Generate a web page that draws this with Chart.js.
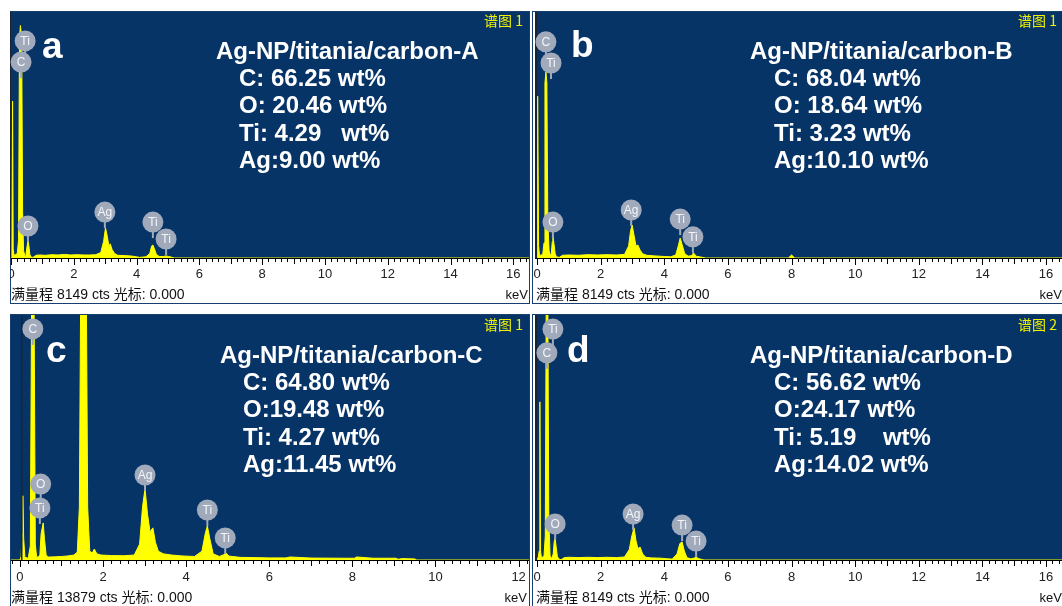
<!DOCTYPE html>
<html lang="zh">
<head>
<meta charset="UTF-8">
<title>EDS spectra Ag-NP/titania/carbon</title>
<script src="https://cdn.jsdelivr.net/npm/chart.js"></script>
<style>
  body { margin: 0; background: #fff; width: 1062px; height: 606px; overflow: hidden; position: relative; }
  canvas { position: absolute; }
  #panelA { left: 10px; top: 11px; }
  #panelB { left: 532px; top: 11px; }
  #panelC { left: 10px; top: 314px; }
  #panelD { left: 532px; top: 314px; }
</style>
</head>
<body>
<canvas id="panelA" width="520" height="293"></canvas>
<canvas id="panelB" width="530" height="293"></canvas>
<canvas id="panelC" width="520" height="292"></canvas>
<canvas id="panelD" width="530" height="292"></canvas>
<script>
// ---- data (energy in keV, intensity in counts) ----
const tickLabels16 = [0, 2, 4, 6, 8, 10, 12, 14, 16];
const tickLabels12 = [0, 2, 4, 6, 8, 10, 12];

const energyA = [0, 0.03, 0.05, 0.07, 0.1, 0.2, 0.24, 0.27, 0.3, 0.34,
  0.37, 0.4, 0.44, 0.47, 0.5, 0.54, 0.57, 0.6, 0.64, 0.7,
  0.8, 0.9, 1.1, 1.3, 1.5, 1.7, 1.9, 2.1, 2.3, 2.5,
  2.7, 2.86, 2.95, 3.01, 3.07, 3.12, 3.16, 3.22, 3.3, 3.4,
  3.6, 3.8, 4.0, 4.1, 4.3, 4.42, 4.48, 4.52, 4.57, 4.63,
  4.72, 4.85, 4.94, 5.02, 5.1, 5.2, 16.5];
const countsA = [0, 300, 5200, 300, 80, 150, 600, 7300, 7700, 7300,
  1500, 250, 70, 60, 300, 570, 400, 120, 30, 20,
  90, 100, 90, 110, 100, 120, 100, 110, 100, 100,
  110, 180, 550, 1000, 700, 380, 470, 280, 150, 90,
  80, 70, 40, 20, 40, 150, 400, 430, 300, 120,
  50, 50, 70, 50, 30, 0, 0];

const energyB = [0, 0.01, 0.03, 0.05, 0.08, 0.18, 0.22, 0.25, 0.28, 0.31,
  0.34, 0.38, 0.42, 0.45, 0.48, 0.5, 0.53, 0.57, 0.61, 0.7,
  0.8, 1.0, 1.3, 1.6, 1.9, 2.2, 2.5, 2.75, 2.88, 2.94,
  2.99, 3.05, 3.11, 3.17, 3.24, 3.32, 3.45, 3.7, 4.0, 4.2,
  4.36, 4.44, 4.5, 4.56, 4.64, 4.75, 4.86, 4.92, 5.0, 5.15,
  5.3, 7.9, 8.0, 8.1, 16.5];
const countsB = [0, 400, 5360, 400, 80, 120, 500, 5800, 6160, 5800,
  1200, 250, 80, 150, 550, 730, 500, 150, 40, 20,
  90, 100, 90, 110, 100, 110, 100, 120, 400, 900,
  1090, 750, 400, 430, 260, 140, 90, 70, 50, 40,
  100, 400, 660, 450, 150, 60, 80, 170, 60, 30,
  0, 0, 100, 0, 0];

const energyC = [-0.215, 0, 0.03, 0.05, 0.07, 0.09, 0.12, 0.2, 0.25, 0.28,
  0.34, 0.37, 0.4, 0.44, 0.48, 0.51, 0.56, 0.59, 0.63, 0.67,
  0.72, 0.85, 1.0, 1.15, 1.3, 1.38, 1.43, 1.46, 1.6, 1.63,
  1.68, 1.74, 1.79, 1.85, 1.95, 2.2, 2.5, 2.75, 2.88, 2.95,
  3.01, 3.07, 3.13, 3.2, 3.26, 3.33, 3.45, 3.65, 3.9, 4.2,
  4.38, 4.46, 4.51, 4.57, 4.65, 4.8, 4.9, 4.96, 5.03, 5.3,
  6.0, 6.4, 6.5, 7.0, 7.8, 8.05, 8.1, 8.5, 9.05, 9.1,
  9.2, 9.5, 9.55, 12.25];
const countsC = [0, 0, 200, 1500, 3640, 1200, 150, 100, 800, 14500,
  14500, 900, 200, 150, 300, 1500, 2100, 1200, 300, 170,
  170, 180, 200, 230, 280, 450, 3000, 14500, 14500, 3000,
  500, 400, 620, 350, 280, 250, 240, 280, 900, 3000,
  4040, 2600, 1600, 1820, 1000, 500, 350, 280, 230, 200,
  500, 1500, 1930, 1200, 350, 200, 300, 400, 220, 150,
  120, 120, 170, 110, 100, 100, 170, 100, 100, 40,
  80, 60, 0, 0];

const energyD = [0, 0.04, 0.07, 0.09, 0.11, 0.14, 0.22, 0.26, 0.29, 0.31,
  0.34, 0.37, 0.41, 0.46, 0.51, 0.54, 0.57, 0.6, 0.64, 0.69,
  0.76, 0.86, 1.0, 1.3, 1.6, 1.9, 2.2, 2.5, 2.75, 2.9,
  2.98, 3.05, 3.11, 3.17, 3.24, 3.32, 3.42, 3.6, 3.9, 4.1,
  4.25, 4.4, 4.49, 4.56, 4.63, 4.71, 4.83, 4.93, 5.0, 5.07,
  5.17, 5.25, 16.5];
const countsD = [0, 100, 300, 5260, 300, 80, 120, 800, 8800, 9000,
  8800, 1500, 150, 40, 200, 600, 730, 450, 120, 30,
  10, 80, 90, 80, 90, 80, 90, 80, 100, 350,
  800, 1070, 650, 380, 430, 200, 90, 70, 60, 40,
  30, 200, 550, 600, 300, 80, 40, 60, 100, 50,
  20, 0, 0];

// element markers: element, energy (keV), marker height (counts)
const peakElemA = ['Ti', 'C', 'O', 'Ag', 'Ti', 'Ti'];
const peakKevA = [0.45, 0.32, 0.54, 2.99, 4.52, 4.94];
const peakLevelA = [7190, 6490, 1060, 1520, 1190, 630];

const peakElemB = ['Ti', 'C', 'O', 'Ag', 'Ti', 'Ti'];
const peakKevB = [0.44, 0.28, 0.5, 2.96, 4.5, 4.9];
const peakLevelB = [6460, 7160, 1190, 1590, 1290, 700];

const peakElemC = ['C', 'O', 'Ti', 'Ag', 'Ti', 'Ti'];
const peakKevC = [0.31, 0.5, 0.48, 3.01, 4.51, 4.94];
const peakLevelC = [13090, 4300, 2950, 4815, 2830, 1250];

const peakElemD = ['Ti', 'C', 'O', 'Ag', 'Ti', 'Ti'];
const peakKevD = [0.5, 0.31, 0.57, 3.02, 4.56, 5.0];
const peakLevelD = [7680, 6890, 1200, 1530, 1160, 630];

const compA = ['C: 66.25 wt%', 'O: 20.46 wt%', 'Ti: 4.29   wt%', 'Ag:9.00 wt%'];
const compB = ['C: 68.04 wt%', 'O: 18.64 wt%', 'Ti: 3.23 wt%', 'Ag:10.10 wt%'];
const compC = ['C: 64.80 wt%', 'O:19.48 wt%', 'Ti: 4.27 wt%', 'Ag:11.45 wt%'];
const compD = ['C: 56.62 wt%', 'O:24.17 wt%', 'Ti: 5.19    wt%', 'Ag:14.02 wt%'];

const fullScaleA = 8149, fullScaleB = 8149, fullScaleC = 13879, fullScaleD = 8149;

// ---- styling ----
const YELLOW = '#ffff00';
const PLOT_BG = '#073467';
const FRAME = '#15406f';
const BADGE = '#a1aabb';
const TEXT_FONT = '"Liberation Sans", Arial, sans-serif';
Chart.defaults.font.family = TEXT_FONT;

function minorTicks(min, max) {
  const out = [];
  for (let i = Math.ceil(min / 0.2 - 1e-6); i * 0.2 <= max + 1e-6; i++) {
    out.push(Math.round(i * 2) / 10);
  }
  return out;
}

function decorations(p) {
  return {
    id: 'edsDecor',
    beforeDraw(chart) {
      const ctx = chart.ctx, w = chart.width, h = chart.height, a = chart.chartArea;
      const f = p.frame;
      ctx.save();
      ctx.fillStyle = FRAME;
      ctx.fillRect(0, 0, w, h);
      ctx.fillStyle = '#ffffff';
      ctx.fillRect(f[0], f[1], w - f[0] - f[2], h - f[1] - f[3]);
      ctx.fillStyle = PLOT_BG;
      ctx.fillRect(a.left, a.top, a.right - a.left, a.bottom - a.top);
      ctx.restore();
    },
    afterDatasetsDraw(chart) {
      const ctx = chart.ctx, a = chart.chartArea;
      const x = chart.scales.x, y = chart.scales.y;
      ctx.save();

      // zero line (left axis)
      const x0 = Math.round(x.getPixelForValue(0));
      ctx.fillStyle = '#1b2230';
      ctx.fillRect(x0 + p.zeroLine[0], a.top, p.zeroLine[1], a.bottom - a.top);

      // bottom axis with minor ticks
      ctx.strokeStyle = '#000';
      ctx.lineWidth = 1;
      ctx.beginPath();
      ctx.moveTo(a.left, a.bottom + 0.5);
      ctx.lineTo(a.right, a.bottom + 0.5);
      minorTicks(p.min, p.max).forEach(v => {
        const px = Math.round(x.getPixelForValue(v)) + 0.5;
        const r = Math.round(v * 10);
        const len = r % 20 === 0 ? 6 : (r % 10 === 0 ? 5 : 3);
        ctx.moveTo(px, a.bottom + 1);
        ctx.lineTo(px, a.bottom + 1 + len);
      });
      ctx.stroke();

      // element markers
      p.peakElem.forEach((el, i) => {
        const cx = x.getPixelForValue(p.peakKev[i]);
        const cy = y.getPixelForValue(p.peakLevel[i]);
        ctx.strokeStyle = BADGE;
        ctx.lineWidth = 2;
        ctx.beginPath();
        ctx.moveTo(cx, cy);
        ctx.lineTo(cx, cy + 16);
        ctx.stroke();
        ctx.fillStyle = BADGE;
        ctx.beginPath();
        ctx.arc(cx, cy, 10.5, 0, Math.PI * 2);
        ctx.fill();
        ctx.fillStyle = '#f3f5f9';
        ctx.font = '12px ' + TEXT_FONT;
        ctx.textAlign = 'center';
        ctx.textBaseline = 'middle';
        ctx.fillText(el, cx, cy + 0.5);
      });

      // panel letter, sample name, composition
      ctx.fillStyle = '#ffffff';
      ctx.textAlign = 'left';
      ctx.textBaseline = 'alphabetic';
      ctx.font = 'bold 37px ' + TEXT_FONT;
      ctx.fillText(p.letter, p.letterPos[0], p.letterPos[1]);
      ctx.font = 'bold 24px ' + TEXT_FONT;
      ctx.fillText(p.title, p.titleX, p.textY);
      p.comp.forEach((s, i) => ctx.fillText(s, p.compX, p.textY + 27 + i * 27.3));

      // spectrum tag, top right
      ctx.fillStyle = '#f2f200';
      ctx.textAlign = 'right';
      ctx.font = '14px "Noto Sans CJK SC", sans-serif';
      ctx.fillText(p.tag, p.tagX, 15 + p.dy);

      // footer
      ctx.fillStyle = '#111';
      ctx.textAlign = 'left';
      ctx.font = '14px ' + TEXT_FONT + ', "Noto Sans CJK SC"';
      ctx.fillText('满量程 ' + p.fullScale + ' cts 光标: 0.000', p.frame[0] + p.footX, 288);
      ctx.font = '13px ' + TEXT_FONT;
      ctx.textAlign = 'right';
      ctx.fillText('keV', p.kevX, 288);
      ctx.restore();
    }
  };
}

function makePanel(id, p) {
  const points = p.energy.map((e, i) => ({ x: e, y: p.counts[i] }));
  new Chart(document.getElementById(id), {
    type: 'line',
    data: {
      datasets: [{
        data: points,
        borderColor: YELLOW,
        backgroundColor: YELLOW,
        borderWidth: 1,
        fill: 'origin',
        pointRadius: 0,
        tension: 0
      }]
    },
    options: {
      responsive: false,
      animation: false,
      devicePixelRatio: 1,
      layout: { autoPadding: false, padding: p.pad },
      plugins: { legend: { display: false }, tooltip: { enabled: false } },
      scales: {
        x: {
          type: 'linear',
          min: p.min,
          max: p.max,
          afterBuildTicks: s => { s.ticks = minorTicks(p.min, p.max).map(v => ({ value: v })); },
          afterFit: s => {
            s.height = p.axisHeight;
            s.paddingLeft = 0;
            s.paddingRight = 0;
          },
          grid: { display: false, drawTicks: false },
          border: { display: false },
          ticks: {
            autoSkip: false,
            maxRotation: 0,
            minRotation: 0,
            padding: p.labelPad,
            color: '#222',
            font: { size: 13 },
            callback: v => {
              const r = Math.round(v * 10) / 10;
              return p.tickLabels.includes(r) ? String(r) : '';
            }
          }
        },
        y: { display: false, min: 0, max: p.fullScale }
      }
    },
    plugins: [decorations(p)]
  });
}

makePanel('panelA', {
  energy: energyA, counts: countsA, fullScale: fullScaleA,
  peakElem: peakElemA, peakKev: peakKevA, peakLevel: peakLevelA,
  comp: compA, title: 'Ag-NP/titania/carbon-A', letter: 'a', tag: '谱图 1',
  tickLabels: tickLabels16, min: 0, max: 16.5,
  pad: { left: 1, right: 1, top: 1, bottom: 1 }, axisHeight: 45, labelPad: 9,
  frame: [1, 1, 1, 1], zeroLine: [-1, 1], dy: 0,
  letterPos: [32, 47], titleX: 206, compX: 229, textY: 48, tagX: 513, footX: 0, kevX: 518
});
makePanel('panelB', {
  energy: energyB, counts: countsB, fullScale: fullScaleB,
  peakElem: peakElemB, peakKev: peakKevB, peakLevel: peakLevelB,
  comp: compB, title: 'Ag-NP/titania/carbon-B', letter: 'b', tag: '谱图 1',
  tickLabels: tickLabels16, min: -0.063, max: 16.5,
  pad: { left: 3, right: 0, top: 1, bottom: 1 }, axisHeight: 45, labelPad: 9,
  frame: [1, 1, 0, 1], zeroLine: [-2, 2], dy: 0,
  letterPos: [39, 46], titleX: 218, compX: 242, textY: 48, tagX: 525, footX: 3, kevX: 530
});
makePanel('panelC', {
  energy: energyC, counts: countsC, fullScale: fullScaleC,
  peakElem: peakElemC, peakKev: peakKevC, peakLevel: peakLevelC,
  comp: compC, title: 'Ag-NP/titania/carbon-C', letter: 'c', tag: '谱图 1',
  tickLabels: tickLabels12, min: -0.215, max: 12.25,
  pad: { left: 1, right: 1, top: 1, bottom: 0 }, axisHeight: 46, labelPad: 10,
  frame: [1, 1, 1, 0], zeroLine: [1, 1.5], dy: 1,
  letterPos: [36, 48], titleX: 210, compX: 233, textY: 49, tagX: 513, footX: 0, kevX: 517
});
makePanel('panelD', {
  energy: energyD, counts: countsD, fullScale: fullScaleD,
  peakElem: peakElemD, peakKev: peakKevD, peakLevel: peakLevelD,
  comp: compD, title: 'Ag-NP/titania/carbon-D', letter: 'd', tag: '谱图 2',
  tickLabels: tickLabels16, min: -0.063, max: 16.5,
  pad: { left: 3, right: 0, top: 1, bottom: 0 }, axisHeight: 46, labelPad: 10,
  frame: [1, 1, 0, 0], zeroLine: [-2, 2], dy: 1,
  letterPos: [35, 48], titleX: 218, compX: 242, textY: 49, tagX: 525, footX: 3, kevX: 530
});
</script>
</body>
</html>
